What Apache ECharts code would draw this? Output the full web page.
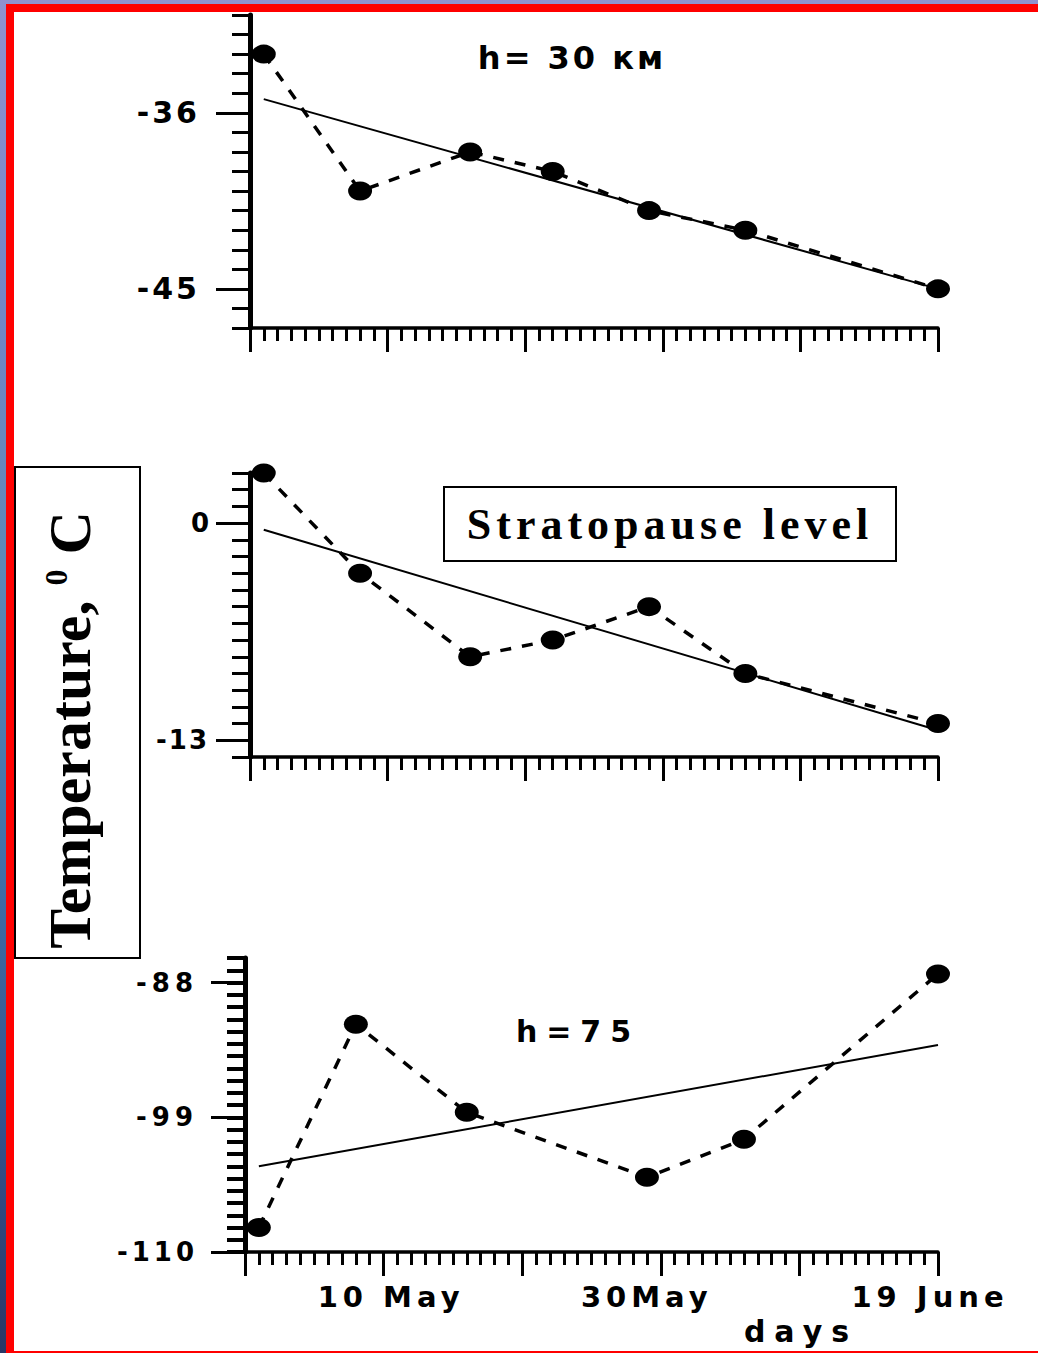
<!DOCTYPE html>
<html>
<head>
<meta charset="utf-8">
<script src="https://cdn.jsdelivr.net/npm/echarts@6/dist/echarts.min.js"></script>
<style>
  html, body { margin: 0; padding: 0; width: 1038px; height: 1353px; overflow: hidden; }
  body {
    position: relative;
    background: linear-gradient(180deg, #9092cf 0%, #7486c6 22%, #5d88b6 42%, #4272a8 62%, #35548f 82%, #2b3766 100%);
  }
  #frame {
    position: absolute; left: 6px; top: 4px; width: 1032px; height: 1349px;
    box-sizing: border-box; background: #fff;
    border-left: 8px solid #ff0000; border-top: 8px solid #ff0000; border-bottom: 2px solid #ff0000;
  }
  #chart { position: absolute; left: 0; top: 0; width: 1038px; height: 1351px; }
</style>
</head>
<body>
<div id="frame"></div>
<div id="chart"></div>
<script>
// Day axis: day 0 = 30 April, day 50 = 19 June
const dayMin = 0;
const dayMax = 50;
const dateTickDays = [10, 30, 50];
const dateTickLabels = ['10 May', '30May', '19 June'];
const trendDays = [1, 50];

// h = 30 km
const days30km = [1, 8, 16, 22, 29, 36, 50];
const temp30km = [-33, -40, -38, -39, -41, -42, -45];
const trend30km = [-35.3, -45.0];
const ticks30km = [-45, -36];

// Stratopause level
const daysStrato = [1, 8, 16, 22, 29, 36, 50];
const tempStrato = [3, -3, -8, -7, -5, -9, -12];
const trendStrato = [-0.4, -12.4];
const ticksStrato = [-13, 0];

// h = 75 km
const days75km = [1, 8, 16, 29, 36, 50];
const temp75km = [-108, -91.4, -98.6, -103.9, -100.8, -87.3];
const trend75km = [-103.0, -93.1];
const ticks75km = [-110, -99, -88];

const SANS = 'DejaVu Sans';
const SERIF = 'Liberation Serif';

const panels = [
  { grid: { left: 250, width: 688, top: 15, height: 313 }, yMin: -47, yMax: -31,
    ticks: ticks30km, days: days30km, temps: temp30km, trend: trend30km,
    labelSize: 30, labelMargin: 50, minorWidth: 3, dates: false },
  { grid: { left: 250, width: 688, top: 473, height: 284 }, yMin: -14, yMax: 3,
    ticks: ticksStrato, days: daysStrato, temps: tempStrato, trend: trendStrato,
    labelSize: 26, labelMargin: 41, minorWidth: 3, dates: false },
  { grid: { left: 245, width: 693, top: 958, height: 294 }, yMin: -110, yMax: -86,
    ticks: ticks75km, days: days75km, temps: temp75km, trend: trend75km,
    labelSize: 26, labelMargin: 47, minorWidth: 4, dates: true }
];

// date labels sit a little off their ticks; each gets its own padding
const dateLabelStyle = { fontFamily: SANS, fontWeight: 'bold', fontSize: 29, fill: '#000' };
const dateRich = {
  d0: Object.assign({ padding: [0, 0, 0, 15] }, dateLabelStyle),
  d1: Object.assign({ padding: [0, 28, 0, 0] }, dateLabelStyle),
  d2: Object.assign({ padding: [0, 16, 0, 0] }, dateLabelStyle)
};

const grids = [], xAxes = [], yAxes = [], series = [];
panels.forEach((p, i) => {
  grids.push(Object.assign({ containLabel: false }, p.grid));
  xAxes.push({
    type: 'value', gridIndex: i, min: dayMin, max: dayMax, interval: 10,
    axisLine: { onZero: false, lineStyle: { color: '#000', width: 3.5 } },
    axisTick: { length: 24, lineStyle: { color: '#000', width: 3 } },
    minorTick: { show: true, splitNumber: 10, length: 13, lineStyle: { color: '#000', width: 3 } },
    splitLine: { show: false }, minorSplitLine: { show: false },
    axisLabel: p.dates ? {
      customValues: dateTickDays,
      formatter: v => {
        const k = dateTickDays.indexOf(v);
        return '{d' + k + '|' + dateTickLabels[k] + '}';
      },
      rich: dateRich,
      margin: 30, color: '#000', fontFamily: SANS, fontWeight: 'bold', fontSize: 29
    } : { show: false }
  });
  // labelled axis with long ticks
  yAxes.push({
    type: 'value', gridIndex: i, position: 'left', min: p.yMin, max: p.yMax,
    axisLine: { onZero: false, lineStyle: { color: '#000', width: 5 } },
    axisTick: { customValues: p.ticks, length: 34, lineStyle: { color: '#000', width: 3 } },
    axisLabel: { customValues: p.ticks, margin: p.labelMargin, color: '#000',
                 fontFamily: SANS, fontWeight: 'bold', fontSize: p.labelSize },
    splitLine: { show: false }
  });
  // unit ticks
  yAxes.push({
    type: 'value', gridIndex: i, position: 'left', min: p.yMin, max: p.yMax, interval: 1,
    axisLine: { show: false },
    axisTick: { length: 18, lineStyle: { color: '#000', width: p.minorWidth } },
    axisLabel: { show: false }, splitLine: { show: false }
  });
  series.push({
    type: 'line', xAxisIndex: i, yAxisIndex: 2 * i, clip: false, z: 2,
    data: trendDays.map((d, k) => [d, p.trend[k]]),
    symbol: 'none', lineStyle: { color: '#000', width: 2 }
  });
  series.push({
    type: 'line', xAxisIndex: i, yAxisIndex: 2 * i, clip: false, z: 3,
    data: p.days.map((d, k) => [d, p.temps[k]]),
    symbol: 'circle', symbolSize: [24, 19],
    itemStyle: { color: '#000' },
    lineStyle: { color: '#000', width: 3.5, type: [11, 11] }
  });
});

const graphic = [
  { type: 'rect', shape: { x: 15, y: 467, width: 125, height: 491 },
    style: { fill: '#fff', stroke: '#000', lineWidth: 2 } },
  { type: 'text', x: 70, y: 730, rotation: Math.PI / 2,
    style: {
      text: '{m|Temperature, }{s|0}{m| C}',
      align: 'center', verticalAlign: 'middle',
      rich: {
        m: { fontFamily: SERIF, fontWeight: 'bold', fontSize: 60, lineHeight: 60,
             padding: [14, 0, 0, 0], verticalAlign: 'bottom', fill: '#000' },
        s: { fontFamily: SERIF, fontWeight: 'bold', fontSize: 32, lineHeight: 32,
             verticalAlign: 'top', fill: '#000' }
      }
    } },
  { type: 'rect', shape: { x: 444, y: 487, width: 452, height: 74 },
    style: { fill: '#fff', stroke: '#000', lineWidth: 2 } },
  { type: 'text', x: 670, y: 524,
    style: { text: 'Stratopause level', fontFamily: SERIF, fontWeight: 'bold', fontSize: 44,
             align: 'center', verticalAlign: 'middle', fill: '#000' } },
  { type: 'text', x: 572, y: 58,
    style: { text: 'h= 30 км', fontFamily: SANS, fontWeight: 'bold', fontSize: 32,
             align: 'center', verticalAlign: 'middle', fill: '#000' } },
  { type: 'text', x: 578, y: 1031,
    style: { text: 'h=75', fontFamily: SANS, fontWeight: 'bold', fontSize: 30,
             align: 'center', verticalAlign: 'middle', fill: '#000' } },
  { type: 'text', x: 801, y: 1331,
    style: { text: 'days', fontFamily: SANS, fontWeight: 'bold', fontSize: 30,
             align: 'center', verticalAlign: 'middle', fill: '#000' } }
];

const chart = echarts.init(document.getElementById('chart'), null, { renderer: 'svg' });
chart.setOption({
  animation: false,
  backgroundColor: 'transparent',
  grid: grids, xAxis: xAxes, yAxis: yAxes, series: series, graphic: graphic
});

// widened letter spacing of the printed labels
const letterSpacing = {
  '-36': 3, '-45': 3, '-13': 2, '-88': 5, '-99': 5, '-110': 4,
  '10 May': 5, '30May': 5, '19 June': 5, 'days': 9,
  'h= 30 км': 3, 'h=75': 9, 'Stratopause level': 5
};
function applySpacing() {
  document.querySelectorAll('#chart text').forEach(t => {
    const s = letterSpacing[t.textContent];
    if (s) t.style.letterSpacing = s + 'px';
  });
}
chart.on('finished', applySpacing);
chart.getZr().refreshImmediately();
applySpacing();
setTimeout(applySpacing, 50);
</script>
</body>
</html>
